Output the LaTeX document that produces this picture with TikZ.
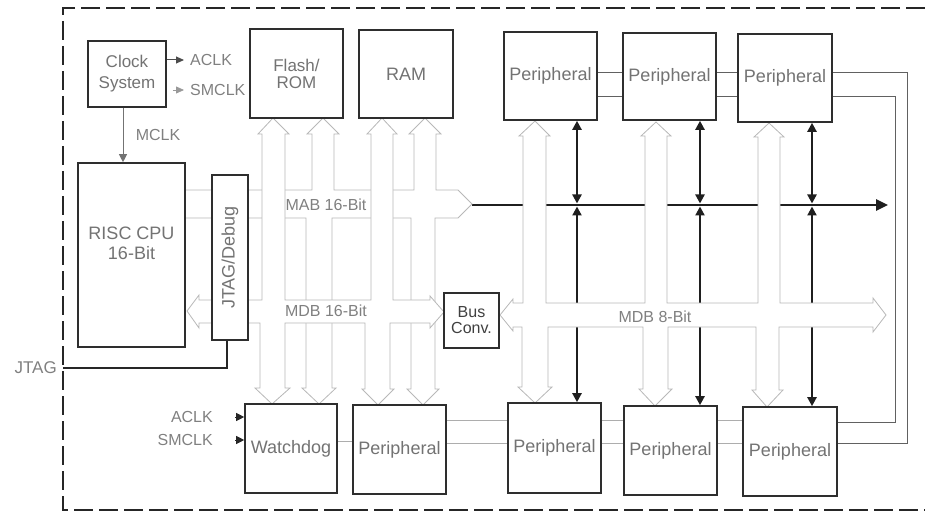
\documentclass[tikz,border=0pt]{standalone}
\usepackage{fontspec}
\setmainfont{Liberation Sans}
\usetikzlibrary{arrows.meta}
\pgfdeclarelayer{background}
\pgfsetlayers{background,main}
\begin{document}
\begin{tikzpicture}[x=1pt,y=-1pt,
  box/.style={draw=black!82, line width=1.6pt, fill=white, inner sep=0pt, align=center, text=black!55, font=\fontsize{18}{17}\selectfont},
  boxtext/.style={align=center, text=black!55, font=\fontsize{18}{20}\selectfont, inner sep=0pt},
  lbl/.style={text=black!50, font=\fontsize{16}{18}\selectfont, inner sep=0pt},
  bus/.style={draw=black!28, line width=0.8pt, fill=white, line join=miter},
  fath/.style={draw=black!88, line width=2.6pt},
  fatv/.style={draw=black!88, line width=2.3pt, {Triangle[length=9pt,width=9pt]}-{Triangle[length=9pt,width=9pt]}},
  chaintop/.style={draw=black!62, line width=0.9pt},
  chainbot/.style={draw=black!32, line width=0.8pt},
  frame/.style={draw=black!85, line width=2.6pt, dash pattern=on 19pt off 6pt}
]
\useasboundingbox (0,0) rectangle (925,521);

% outer dashed frame
\draw[frame] (925,8) -- (63,8) -- (63,510) -- (925,510);

% boxes
\node[box, minimum width=78pt, minimum height=66pt, font=\fontsize{17}{21}\selectfont] (clk) at (127,74) {Clock\\System};
\node[box, minimum width=107pt, minimum height=184pt] (cpu) at (131.5,255) {};
\node[boxtext] (cputxt) at (131.5,243) {RISC CPU\\16-Bit};
\node[box, minimum width=36pt, minimum height=165pt] (jtg) at (230,257.5) {};
\node[boxtext, rotate=90] (jtgtxt) at (jtg.center) {JTAG/Debug};
\node[box, minimum width=93pt, minimum height=89pt, font=\fontsize{17}{17}\selectfont] (fl) at (296.5,73.5) {Flash/\\ROM};
\node[box, minimum width=94pt, minimum height=88pt] (ram) at (406,74) {RAM};
\node[box, minimum width=93pt, minimum height=88pt] (tp1) at (550.5,76) {Peripheral};
\node[box, minimum width=93pt, minimum height=87pt] (tp2) at (669.5,76.5) {Peripheral};
\node[box, minimum width=94pt, minimum height=88pt] (tp3) at (785,78) {Peripheral};
\node[box, minimum width=55pt, minimum height=55pt, text=black!75, font=\fontsize{16}{16}\selectfont] (bc) at (471.5,320.5) {Bus\\Conv.};
\node[box, minimum width=92pt, minimum height=89pt] (wd) at (291,448.5) {Watchdog};
\node[box, minimum width=93pt, minimum height=89pt] (bp0) at (399.5,449.5) {Peripheral};
\node[box, minimum width=93pt, minimum height=90pt] (bp1) at (554.5,448) {Peripheral};
\node[box, minimum width=93pt, minimum height=89pt] (bp2) at (670.5,450.5) {Peripheral};
\node[box, minimum width=94pt, minimum height=89pt] (bp3) at (790,451.5) {Peripheral};

% bus labels
\node[lbl] (mab) at (326,205) {MAB 16-Bit};
\node[lbl] (mdb16) at (326,311) {MDB 16-Bit};
\node[lbl] (mdb8) at (655,317) {MDB 8-Bit};

% clock signals
\node[lbl, anchor=west] (aclk) at (190,60) {ACLK};
\node[lbl, anchor=west] (smclk) at (190,90) {SMCLK};
\node[lbl] (mclk) at (158,135) {MCLK};
\draw[black!70, line width=1pt, -{Triangle[length=8pt,width=7pt]}] (clk.east |- aclk) -- ([xshift=-6pt]aclk.west);
\draw[black!40, line width=0.8pt, -{Triangle[length=8pt,width=7pt]}] ([xshift=6pt]clk.east |- smclk) -- ([xshift=-6pt]smclk.west);
\coordinate (xm) at (123,0);
\draw[black!55, line width=0.9pt, -{Triangle[length=8pt,width=8pt]}] (clk.south -| xm) -- (cpu.north -| xm);

% watchdog clock inputs
\node[lbl, anchor=east] (wa) at (213,417) {ACLK};
\node[lbl, anchor=east] (ws) at (213,440) {SMCLK};
\draw[black!85, line width=0.8pt, -{Triangle[length=8pt,width=8pt]}] ([xshift=22pt]wa.east) -- (wd.west |- wa);
\draw[black!85, line width=0.8pt, -{Triangle[length=8pt,width=8pt]}] ([xshift=22pt]ws.east) -- (wd.west |- ws);

% JTAG pin
\node[lbl, anchor=east, font=\fontsize{17}{18}\selectfont] (jtagpin) at (57,368) {JTAG};
\coordinate (jp) at (63,368);
\draw[black!85, line width=1.5pt] (jp) -| ([xshift=-3pt]jtg.south);

% peripheral daisy-chain lines
\foreach \yy in {72,96} {
  \coordinate (c) at (0,\yy);
  \draw[chaintop] (tp1.east |- c) -- (tp2.west |- c);
  \draw[chaintop] (tp2.east |- c) -- (tp3.west |- c);
}
\coordinate (r1) at (907,72);
\coordinate (r2) at (907,443);
\coordinate (r3) at (895,96);
\coordinate (r4) at (895,422);
\draw[chaintop] (tp3.east |- r1) -- (r1) -- (r2) -- (bp3.east |- r2);
\draw[chaintop] (tp3.east |- r3) -- (r3) -- (r4) -- (bp3.east |- r4);
\foreach \yy in {420,443} {
  \coordinate (c) at (0,\yy);
  \draw[chainbot] (bp0.east |- c) -- (bp1.west |- c);
  \draw[chainbot] (bp1.east |- c) -- (bp2.west |- c);
  \draw[chainbot] (bp2.east |- c) -- (bp3.west |- c);
}
\coordinate (c) at (0,441);
\draw[chainbot] (wd.east |- c) -- (bp0.west |- c);

\begin{pgfonlayer}{background}
% thick MAB continuation and peripheral address lines
\coordinate (mabend) at (472,205);
\draw[fath, -{Triangle[length=12pt,width=11pt]}] (mabend) -- (888,205);
\foreach \t/\b/\x in {tp1/bp1/577, tp2/bp2/700, tp3/bp3/812} {
  \coordinate (m) at (\x,205);
  \draw[fatv] (\t.south -| m) -- ([yshift=1.5pt]m);
  \draw[fatv] ([yshift=-1.5pt]m) -- (\b.north -| m);
}
% MAB 16-Bit hollow bus
\draw[bus] (185,190) -- (312,190) -- (312,134) -- (307,134) -- (323,118) -- (339,134) -- (334,134) -- (334,190)
  -- (414,190) -- (414,134) -- (409,134) -- (425,118) -- (441,134) -- (436,134) -- (436,190)
  -- (458,190) -- (472,204) -- (458,218)
  -- (435,218) -- (435,389) -- (439,389) -- (423,405) -- (407,389) -- (411,389) -- (411,218)
  -- (332,218) -- (332,388) -- (336,388) -- (319,404) -- (302,388) -- (306,388) -- (306,218)
  -- (185,218);
% MDB 16-Bit hollow bus
\draw[bus] (199,300) -- (262,300) -- (262,134) -- (258,134) -- (273,118) -- (289,134) -- (285,134) -- (285,300)
  -- (371,300) -- (371,134) -- (367,134) -- (382,118) -- (397,134) -- (393,134) -- (393,300)
  -- (430,300) -- (430,296) -- (444,312) -- (430,328) -- (430,323)
  -- (390,323) -- (390,389) -- (394,389) -- (378,405) -- (362,389) -- (365,389) -- (365,323)
  -- (285,323) -- (285,388) -- (290,388) -- (272,404) -- (255,388) -- (260,388) -- (260,323)
  -- (199,323) -- (199,328) -- (187,311) -- (199,295) -- cycle;
% MDB 8-Bit hollow bus
\draw[bus] (513,303) -- (523,303) -- (523,136) -- (519,136) -- (535,121) -- (550,136) -- (546,136) -- (546,303)
  -- (645,303) -- (645,136) -- (641,136) -- (656,122) -- (671,136) -- (667,136) -- (667,303)
  -- (758,303) -- (758,137) -- (754,137) -- (769,123) -- (784,137) -- (780,137) -- (780,303)
  -- (873,303) -- (873,298) -- (886,315) -- (873,332) -- (873,327)
  -- (779,327) -- (779,390) -- (783,390) -- (767,407) -- (752,390) -- (756,390) -- (756,327)
  -- (668,327) -- (668,389) -- (672,389) -- (655,406) -- (639,389) -- (643,389) -- (643,327)
  -- (548,327) -- (548,387) -- (552,387) -- (535,403) -- (518,387) -- (522,387) -- (522,327)
  -- (513,327) -- (513,331) -- (500,315) -- (513,299) -- cycle;
\end{pgfonlayer}
\end{tikzpicture}
\end{document}
